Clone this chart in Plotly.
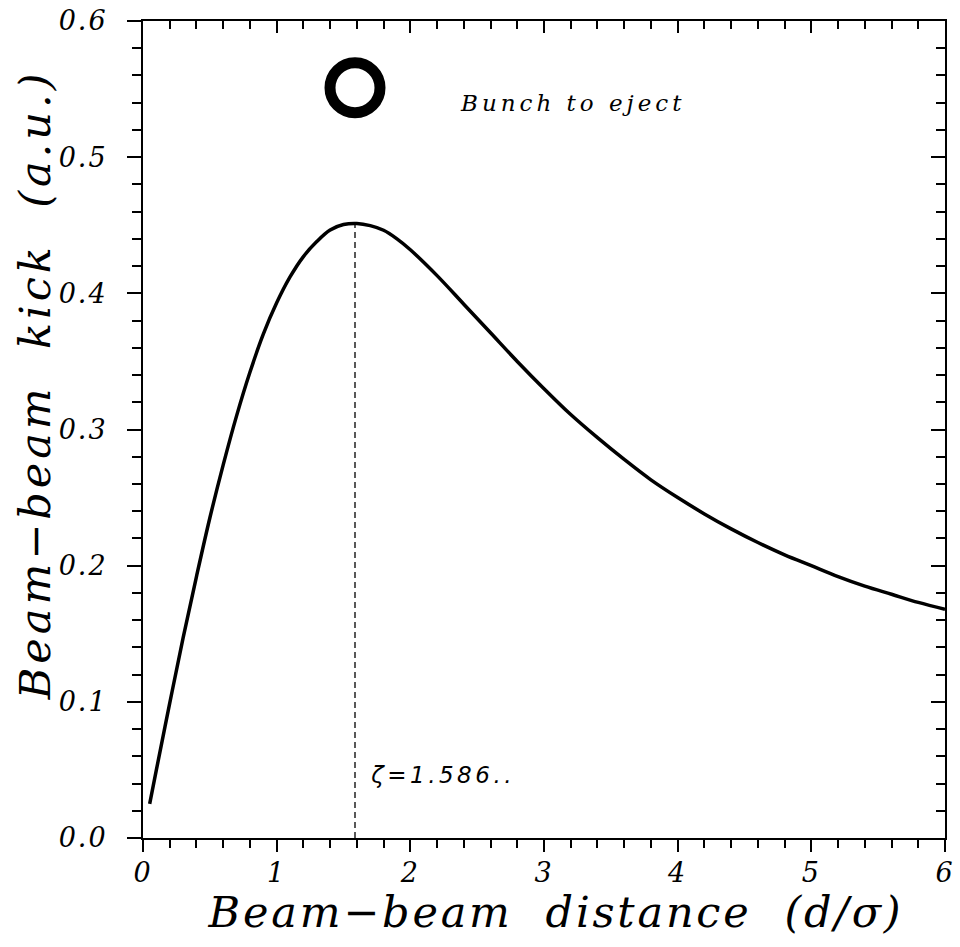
import plotly.graph_objects as go

# Beam-beam kick curve
dist = [0.05, 0.1, 0.2, 0.3, 0.4, 0.5, 0.6, 0.7, 0.8, 0.9, 1.0, 1.1, 1.2, 1.3,
        1.4, 1.5, 1.6, 1.7, 1.8, 1.9, 2.0, 2.2, 2.4, 2.6, 2.8, 3.0, 3.2, 3.4,
        3.6, 3.8, 4.0, 4.2, 4.4, 4.6, 4.8, 5.0, 5.2, 5.4, 5.6, 5.8, 6.0]
kick = [0.025, 0.050, 0.099, 0.147, 0.192, 0.235, 0.274, 0.310, 0.342, 0.370,
        0.393, 0.412, 0.427, 0.438, 0.4465, 0.4505, 0.4513, 0.4497, 0.4463, 0.440,
        0.432, 0.413, 0.392, 0.371, 0.350, 0.330, 0.311, 0.294, 0.278, 0.263,
        0.250, 0.238, 0.227, 0.217, 0.208, 0.200, 0.192, 0.185, 0.179, 0.173,
        0.168]

zeta_x = [1.586, 1.586]
zeta_y = [0.0, 0.452]
zeta_label = "ζ=1.586.."

bunch_x = [1.586]
bunch_y = [0.551]
bunch_label = "Bunch to eject"

x_ticks = [0, 1, 2, 3, 4, 5, 6]
y_ticks = [0.0, 0.1, 0.2, 0.3, 0.4, 0.5, 0.6]
x_title = "Beam−beam  distance  (d/σ)"
y_title = "Beam−beam  kick  (a.u.)"

serif = "DejaVu Serif"

fig = go.Figure()
fig.add_trace(go.Scatter(x=dist, y=kick, mode="lines", line=dict(color="black", width=3.5, shape="spline"),
                         showlegend=False, hoverinfo="skip"))
fig.add_trace(go.Scatter(x=zeta_x, y=zeta_y, mode="lines", line=dict(color="black", width=1.3, dash="6px,4px"),
                         showlegend=False, hoverinfo="skip"))
fig.add_trace(go.Scatter(x=bunch_x, y=bunch_y, mode="markers",
                         marker=dict(symbol="circle-open", size=50, color="black", line=dict(width=11, color="black")),
                         showlegend=False, hoverinfo="skip"))
# invisible trace to activate mirrored axes
fig.add_trace(go.Scatter(x=[None], y=[None], xaxis="x2", yaxis="y2", showlegend=False, hoverinfo="skip"))

common = dict(showgrid=False, zeroline=False, showline=True, linecolor="black", linewidth=2,
              tickcolor="black", tickwidth=1.5, automargin=False)

fig.update_layout(
    width=960, height=947,
    paper_bgcolor="white", plot_bgcolor="white",
    margin=dict(l=143, r=15, t=21, b=109),
    xaxis=dict(range=[0, 6], tickvals=x_ticks, ticktext=[str(v) for v in x_ticks], ticks="outside",
               ticklen=12,
               minor=dict(dtick=0.2, ticks="outside", ticklen=8, tickcolor="black", tickwidth=1.5),
               tickfont=dict(family=serif, size=27, color="black", style="italic"),
               ticklabelstandoff=-2, **common),
    yaxis=dict(range=[0, 0.6], tickvals=y_ticks, ticktext=[f"{v:.1f}" for v in y_ticks], ticks="outside",
               ticklen=14,
               minor=dict(dtick=0.02, ticks="outside", ticklen=9, tickcolor="black", tickwidth=1.5),
               tickfont=dict(family=serif, size=27, color="black", style="italic"),
               ticklabelstandoff=14, **common),
    xaxis2=dict(range=[0, 6], overlaying="x", side="top", ticks="inside", tickvals=x_ticks,
                showticklabels=False, ticklen=12,
                minor=dict(dtick=0.2, ticks="inside", ticklen=8, tickcolor="black", tickwidth=1.5),
                **common),
    yaxis2=dict(range=[0, 0.6], overlaying="y", side="right", ticks="inside", tickvals=y_ticks,
                showticklabels=False, ticklen=14,
                minor=dict(dtick=0.02, ticks="inside", ticklen=9, tickcolor="black", tickwidth=1.5),
                **common),
    annotations=[
        dict(x=3.22, y=0.54, xref="x", yref="y", text=bunch_label, showarrow=False, xanchor="center",
             yanchor="middle", font=dict(family=serif, size=23, color="black", style="italic")),
        dict(x=2.24, y=0.046, xref="x", yref="y", text=zeta_label, showarrow=False, xanchor="center",
             yanchor="middle", font=dict(family="DejaVu Sans", size=23, color="black", style="italic")),
        dict(x=0.514, y=-0.09, xref="paper", yref="paper", text=x_title, showarrow=False, xanchor="center",
             yanchor="middle", font=dict(family=serif, size=43, color="black", style="italic")),
        dict(x=-0.135, y=0.555, xref="paper", yref="paper", text=y_title, showarrow=False, xanchor="center",
             yanchor="middle", textangle=-90, font=dict(family=serif, size=43, color="black", style="italic")),
    ],
)

post = """
document.body.style.margin = '0';
var gd = document.getElementById('{plot_id}');
function spaceText() {
  gd.querySelectorAll('text.annotation-text').forEach(function (t) {
    var s = t.textContent;
    if (s.indexOf('distance') >= 0) { t.style.letterSpacing = '2.8px'; }
    else if (s.indexOf('kick') >= 0) { t.style.letterSpacing = '4px'; }
    else if (s.indexOf('Bunch') >= 0) { t.style.letterSpacing = '4px'; }
    else if (s.indexOf('1.586') >= 0) { t.style.letterSpacing = '3.5px'; }
  });
  gd.querySelectorAll('g.xtick text, g.ytick text').forEach(function (t) {
    t.style.letterSpacing = '2px';
  });
}
spaceText();
gd.on('plotly_afterplot', spaceText);
"""

fig.write_html("out.html", post_script=post, config={"displayModeBar": False})
